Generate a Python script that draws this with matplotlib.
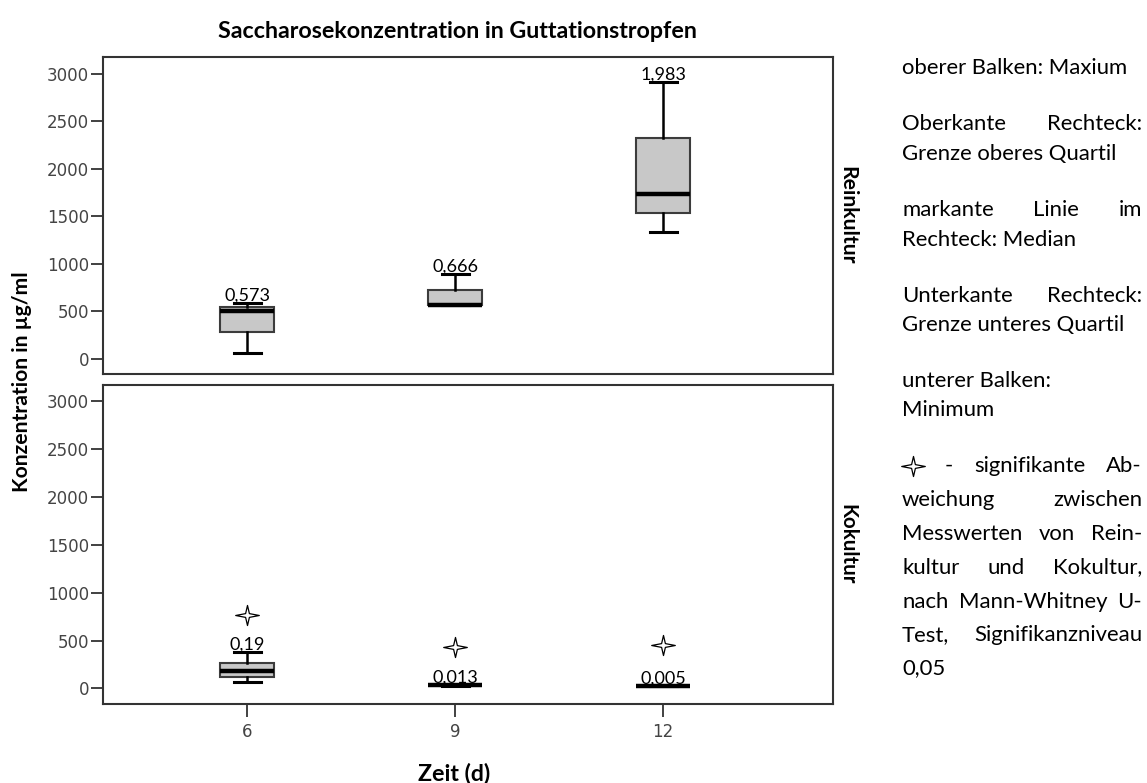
import matplotlib
matplotlib.use("Agg")
import matplotlib.pyplot as plt
from matplotlib.lines import Line2D
from matplotlib.path import Path

# data (µg/ml)
days = [6, 9, 12]

rein_min = [63, 568, 1334]
rein_q1 = [284, 568, 1534]
rein_med = [505, 568, 1737]
rein_q3 = [542, 726, 2329]
rein_max = [589, 895, 2919]
rein_labels = ["0,573", "0,666", "1,983"]

ko_min = [70, 30, 24]
ko_q1 = [122, 35, 28]
ko_med = [185, 35, 28]
ko_q3 = [268, 35, 28]
ko_max = [380, 40, 32]
ko_labels = ["0,19", "0,013", "0,005"]
ko_star = [765, 436, 454]   # height of significance markers

yticks = [0, 500, 1000, 1500, 2000, 2500, 3000]

W, H = 1147, 783
fig = plt.figure(figsize=(W / 100, H / 100), dpi=100)
renderer = fig.canvas.get_renderer()

TXT = "Lato"

# thin four-pointed star, a bit wider than tall
_r = 0.16
STAR = Path([(1, 0), (_r, _r), (0, 0.85), (-_r, _r), (-1, 0),
             (-_r, -_r), (0, -0.85), (_r, -_r), (1, 0)], closed=True)


def px(x, y):
    """pixel position (from top-left) -> figure fraction"""
    return x / W, 1 - y / H


def fit(t, target):
    """scale a text so its long side matches the target (pixels)"""
    bb = t.get_window_extent(renderer)
    size = bb.width if t.get_rotation() == 0 else bb.height
    t.set_fontsize(t.get_fontsize() * target / size)


def make_stats(lo, q1, med, q3, hi):
    return [dict(whislo=a, q1=b, med=c, q3=d, whishi=e, fliers=[])
            for a, b, c, d, e in zip(lo, q1, med, q3, hi)]


ax_top = fig.add_axes([103 / W, 1 - 374 / H, 730 / W, 317.5 / H])
ax_bot = fig.add_axes([103 / W, 1 - 703.5 / H, 730 / W, 318.5 / H])

panels = [
    (ax_top, make_stats(rein_min, rein_q1, rein_med, rein_q3, rein_max), rein_max, rein_labels, (-158, 3184), "Reinkultur", 98),
    (ax_bot, make_stats(ko_min, ko_q1, ko_med, ko_q3, ko_max), ko_max, ko_labels, (-157, 3168), "Kokultur", 80),
]

for ax, stats, tops, labels, ylim, strip, strip_len in panels:
    ax.bxp(stats, positions=days, widths=0.78, capwidths=0.39, patch_artist=True,
           showfliers=False, manage_ticks=False,
           boxprops=dict(facecolor="#c8c8c8", edgecolor="#3c3c3c", linewidth=1.5),
           medianprops=dict(color="black", linewidth=3.2, solid_capstyle="butt"),
           whiskerprops=dict(color="black", linewidth=1.8),
           capprops=dict(color="black", linewidth=2.2))
    for d, top, lab in zip(days, tops, labels):
        ax.annotate(lab, (d, top), xytext=(0, 1.5), textcoords="offset points",
                    ha="center", va="baseline", fontsize=13, family=TXT, color="black")
    ax.set_xlim(3.923, 14.45)
    ax.set_ylim(*ylim)
    ax.set_yticks(yticks)
    ax.tick_params(axis="y", direction="out", length=9, width=1.3, pad=1,
                   labelsize=12, labelcolor="#444444", color="#333333")
    for s in ax.spines.values():
        s.set_color("#333333")
        s.set_linewidth(1.5)
    st = ax.text(1.0 + 14 / 730, 0.5, strip, transform=ax.transAxes, rotation=-90,
                 ha="center", va="center", fontsize=12, fontweight="bold", family=TXT)
    fit(st, strip_len)

ax_top.set_xticks([])
ax_bot.set_xticks(days)
ax_bot.set_xticklabels([str(d) for d in days])
ax_bot.tick_params(axis="x", direction="out", length=9, width=1.3, pad=5,
                   labelsize=12, labelcolor="#444444", color="#333333")

# significance stars in the Kokultur panel
ax_bot.plot(days, ko_star, linestyle="none", marker=STAR, markersize=17,
            markerfacecolor="white", markeredgecolor="black", markeredgewidth=0.9)

# titles and axis labels
t = fig.text(*px(457, 31), "Saccharosekonzentration in Guttationstropfen",
             ha="center", va="center", fontsize=14, fontweight="bold", family=TXT)
fit(t, 485)
t = fig.text(*px(22, 382), "Konzentration in µg/ml", rotation=90,
             ha="center", va="center", fontsize=13, fontweight="bold", family=TXT)
fit(t, 220)
t = fig.text(*px(454, 773), "Zeit (d)", ha="center", va="center",
             fontsize=13, fontweight="bold", family=TXT)
fit(t, 72)

# explanation text on the right, justified like the original
X0, X1 = 902, 1142
STAR_W = 22

probe = fig.text(0, 0, "oberer Balken: Maxium", fontsize=12.5, family=TXT)
fit(probe, 227)
LEG_SIZE = probe.get_fontsize()
probe.remove()


def line(y, words, justify=True, lead=0):
    ts = [fig.text(0, 1 - (y + 6) / H, w, fontsize=LEG_SIZE, family=TXT,
                   ha="left", va="baseline") for w in words]
    if not justify:
        ts[0].set_x(X0 / W)
        return
    widths = [tt.get_window_extent(renderer).width for tt in ts]
    n_gaps = len(words) - 1 + (1 if lead else 0)
    gap = (X1 - X0 - lead - sum(widths)) / n_gaps
    x = X0 + (lead + gap if lead else 0)
    for tt, w in zip(ts, widths):
        tt.set_x(x / W)
        x += w + gap


line(67.5, ["oberer Balken: Maxium"], justify=False)
line(124, ["Oberkante", "Rechteck:"])
line(154, ["Grenze oberes Quartil"], justify=False)
line(210, ["markante", "Linie", "im"])
line(240, ["Rechteck: Median"], justify=False)
line(296, ["Unterkante", "Rechteck:"])
line(325, ["Grenze unteres Quartil"], justify=False)
line(381, ["unterer Balken:"], justify=False)
line(410, ["Minimum"], justify=False)
line(466, ["-", "signifikante", "Ab-"], lead=STAR_W)
line(500, ["weichung", "zwischen"])
line(534, ["Messwerten", "von", "Rein-"])
line(567.5, ["kultur", "und", "Kokultur,"])
line(601.5, ["nach", "Mann-Whitney", "U-"])
line(635, ["Test,", "Signifikanzniveau"])
line(668.5, ["0,05"], justify=False)

fig.add_artist(Line2D([(X0 + STAR_W / 2) / W], [1 - 466 / H], transform=fig.transFigure,
                      linestyle="none", marker=STAR, markersize=17,
                      markerfacecolor="white", markeredgecolor="black",
                      markeredgewidth=0.9))

fig.savefig("out.png", dpi=100)
